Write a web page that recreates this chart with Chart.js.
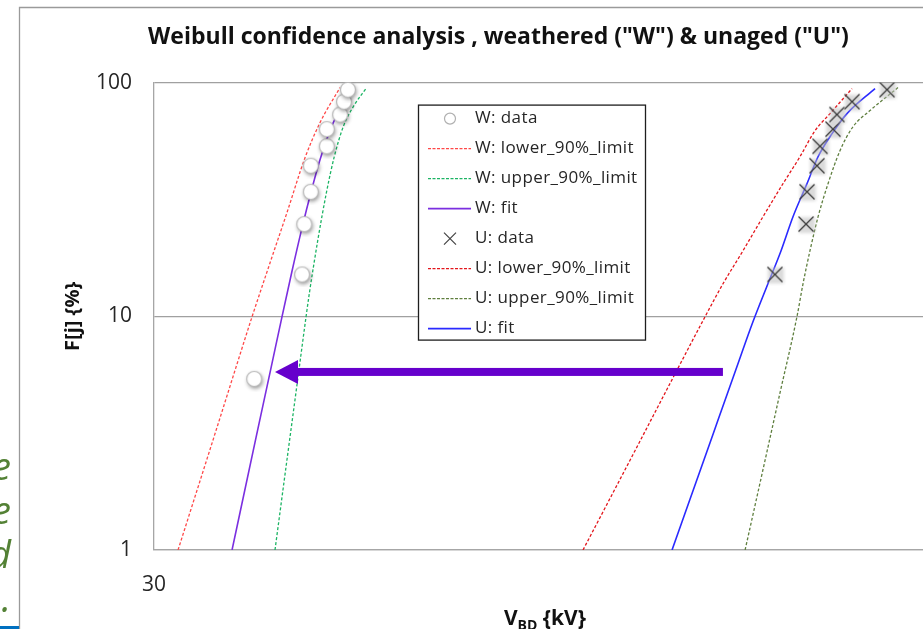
<!DOCTYPE html>
<html>
<head>
<meta charset="utf-8">
<title>Weibull confidence analysis</title>
<script src="https://cdn.jsdelivr.net/npm/chart.js@4.4.1/dist/chart.umd.min.js"></script>
<style>
  html, body { margin: 0; padding: 0; background: #fff; overflow: hidden; }
  body { width: 923px; height: 629px; position: relative; }
  #weibull-chart { position: absolute; left: 0; top: 0; }
  #side-text { position: absolute; left: -100px; top: 443px; width: 111px; text-align: right;
    font: italic 38px 'Open Sans', sans-serif; line-height: 44px; color: #538135; }
  #side-line { position: absolute; left: 0; top: 626px; width: 19px; height: 3px; background: #0070C0; }
</style>
</head>
<body>
<canvas id="weibull-chart" width="980" height="629"></canvas>
<div id="side-text">e<br>e<br>d<br>.</div>
<div id="side-line"></div>
<script>
// plotting positions F[j] {%} of the sorted breakdown voltages
const wRankF = [5.4, 15.1, 24.8, 34.1, 44.1, 53.4, 63.2, 73.0, 82.9, 93.3];
const uRankF = [15.1, 24.8, 34.1, 44.1, 53.4, 63.2, 73.0, 82.9, 93.3];

// W: weathered
const wDataV = [40.3, 46.4, 46.7, 47.6, 47.6, 49.9, 49.9, 51.9, 52.5, 53.1];
const wLowerV = [32.2, 36.13, 38.1, 40.04, 42.21, 44.38, 46.8, 48.91, 51.88];
const wLowerF = [1.0, 3.36, 5.9, 9.95, 16.9, 27.8, 47.7, 67.4, 95.2];
const wUpperV = [42.84, 44.2, 45.67, 46.94, 47.41, 48.61, 49.84, 51.01, 52.38, 53.95, 56.12];
const wUpperF = [1.0, 2.2, 4.99, 9.95, 12.6, 21.3, 33.8, 48.2, 64.8, 78.9, 95.2];
const wFitV = [37.75, 40.53, 42.29, 43.73, 45.0, 46.33, 47.72, 48.91, 50.86, 53.85];
const wFitF = [1.0, 3.05, 5.9, 9.95, 15.4, 23.5, 34.8, 46.8, 67.4, 93.3];

// U: unaged
const uDataV = [186.7, 204.6, 205.2, 211.3, 213.2, 221.5, 224.1, 234.3, 259.7];
const uLowerV = [106.1, 123.8, 138.5, 151.96, 160.23, 169.95, 180.26, 191.19, 201.0, 210.1, 219.6, 234.3];
const uLowerF = [1.0, 2.68, 5.51, 9.95, 13.78, 19.08, 26.68, 36.94, 48.19, 62.29, 73.68, 94.3];
const uUpperV = [171.0, 181.4, 189.5, 199.2, 202.8, 207.0, 212.0, 218.3, 226.1, 235.0, 247.0, 268.2];
const uUpperF = [1.0, 2.43, 4.7, 9.95, 13.78, 19.08, 26.68, 36.94, 51.1, 64.8, 75.89, 95.2];
const uFitV = [137.9, 155.8, 166.4, 175.0, 182.9, 190.1, 196.9, 205.2, 212.0, 220.9, 230.8, 250.7];
const uFitF = [1.0, 3.17, 5.9, 9.47, 13.78, 19.08, 26.68, 36.94, 48.19, 60.47, 73.68, 94.3];

// axes
const xRange = [30, 300];
const xTickValues = [30];
const yRange = [1, 100];
const yTickValues = [1, 10, 100];

// the shift arrow (U -> W)
const arrowNote = { fromV: 160.2, toV: 42.84, atF: 5.78 };

const FONT = "'Open Sans', sans-serif";
Chart.defaults.font.family = FONT;
Chart.defaults.color = '#262626';

function pts(vs, fs) {
  return vs.map((v, i) => ({ x: v, y: fs[i] }));
}

// markers with the soft excel-like shadow
function circleMarker() {
  const c = document.createElement('canvas');
  c.width = c.height = 26;
  const g = c.getContext('2d');
  g.shadowColor = 'rgba(0,0,0,0.45)';
  g.shadowBlur = 4;
  g.shadowOffsetX = 1;
  g.shadowOffsetY = 2;
  g.beginPath();
  g.arc(13, 13, 7.5, 0, Math.PI * 2);
  g.fillStyle = '#fff';
  g.fill();
  g.shadowColor = 'transparent';
  g.lineWidth = 1.2;
  g.strokeStyle = '#b8b8b8';
  g.stroke();
  return c;
}

function crossMarker() {
  const c = document.createElement('canvas');
  c.width = c.height = 28;
  const g = c.getContext('2d');
  g.filter = 'blur(1.5px)';
  g.fillStyle = 'rgba(190,190,190,0.55)';
  g.fillRect(7, 7, 16, 16);
  g.filter = 'none';
  g.strokeStyle = '#3a3a3a';
  g.lineWidth = 1.3;
  g.beginPath();
  g.moveTo(6.5, 6.5); g.lineTo(21.5, 21.5);
  g.moveTo(21.5, 6.5); g.lineTo(6.5, 21.5);
  g.stroke();
  return c;
}

function curve(label, vs, fs, color, dashed) {
  return {
    label: label,
    data: pts(vs, fs),
    showLine: true,
    borderColor: color,
    backgroundColor: color,
    borderWidth: dashed ? 1.3 : 1.6,
    borderDash: dashed ? [3, 2] : [],
    pointRadius: 0,
    cubicInterpolationMode: 'monotone',
    order: 2
  };
}

const datasets = [
  { label: 'W: data', data: pts(wDataV, wRankF), pointStyle: circleMarker(), pointRadius: 8, showLine: false, order: 0, marker: 'circle' },
  curve('W: lower_90%_limit', wLowerV, wLowerF, '#ff4848', true),
  curve('W: upper_90%_limit', wUpperV, wUpperF, '#1cb464', true),
  curve('W: fit', wFitV, wFitF, '#7b2fe0', false),
  { label: 'U: data', data: pts(uDataV, uRankF), pointStyle: crossMarker(), pointRadius: 8, showLine: false, order: 0, marker: 'cross' },
  curve('U: lower_90%_limit', uLowerV, uLowerF, '#e3161c', true),
  curve('U: upper_90%_limit', uUpperV, uUpperF, '#5f7f3f', true),
  curve('U: fit', uFitV, uFitF, '#2a2aff', false)
];

// white page + chart frame
const framePlugin = {
  id: 'frame',
  beforeDraw(chart) {
    const { ctx, width, height } = chart;
    ctx.save();
    ctx.fillStyle = '#fff';
    ctx.fillRect(0, 0, width, height);
    ctx.strokeStyle = '#9a9a9a';
    ctx.lineWidth = 1.3;
    ctx.beginPath();
    ctx.moveTo(19.5, height);
    ctx.lineTo(19.5, 7.5);
    ctx.lineTo(width, 7.5);
    ctx.stroke();
    ctx.restore();
  }
};

// legend box inside the plot
const legendBoxPlugin = {
  id: 'legendBox',
  afterDatasetsDraw(chart) {
    const { ctx, chartArea } = chart;
    const x0 = chartArea.left + 264, y0 = chartArea.top + 22;
    const w = 227, rowH = 30, h = 235;
    ctx.save();
    ctx.fillStyle = '#fff';
    ctx.fillRect(x0, y0, w, h);
    ctx.strokeStyle = '#1e1e1e';
    ctx.lineWidth = 1.3;
    ctx.strokeRect(x0 + 0.5, y0 + 0.5, w, h);
    ctx.font = '17px ' + FONT;
    ctx.letterSpacing = '0.4px';
    ctx.textBaseline = 'middle';
    chart.data.datasets.forEach((ds, i) => {
      const y = y0 + 14 + i * rowH;
      if (ds.showLine) {
        ctx.strokeStyle = ds.borderColor;
        ctx.lineWidth = ds.borderWidth;
        ctx.setLineDash(ds.borderDash.length ? [3, 1.5] : []);
        ctx.beginPath();
        ctx.moveTo(x0 + 10, y);
        ctx.lineTo(x0 + 53, y);
        ctx.stroke();
        ctx.setLineDash([]);
      } else if (ds.marker === 'circle') {
        ctx.strokeStyle = '#b0b0b0';
        ctx.lineWidth = 1.2;
        ctx.beginPath();
        ctx.arc(x0 + 32, y, 5.5, 0, Math.PI * 2);
        ctx.stroke();
      } else {
        ctx.strokeStyle = '#444';
        ctx.lineWidth = 1.2;
        ctx.beginPath();
        ctx.moveTo(x0 + 26, y - 6); ctx.lineTo(x0 + 38, y + 6);
        ctx.moveTo(x0 + 38, y - 6); ctx.lineTo(x0 + 26, y + 6);
        ctx.stroke();
      }
      ctx.fillStyle = '#262626';
      ctx.fillText(ds.label, x0 + 57, y);
    });
    ctx.restore();
  }
};

// x-axis title with subscript + the arrow
const overlayPlugin = {
  id: 'overlay',
  afterDraw(chart) {
    const { ctx, chartArea, scales } = chart;
    ctx.save();
    // V_BD {kV}
    const big = 'bold 21px ' + FONT, small = 'bold 14px ' + FONT;
    ctx.font = big;
    const wV = ctx.measureText('V').width;
    const wRest = ctx.measureText(' {kV}').width;
    ctx.font = small;
    const wSub = ctx.measureText('BD').width;
    let x = (chartArea.left + chartArea.right) / 2 - (wV + wSub + wRest) / 2;
    const base = chartArea.bottom + 75;
    ctx.fillStyle = '#111';
    ctx.textBaseline = 'alphabetic';
    ctx.font = big;
    ctx.fillText('V', x, base);
    x += wV;
    ctx.font = small;
    ctx.fillText('BD', x, base + 5);
    x += wSub;
    ctx.font = big;
    ctx.fillText(' {kV}', x, base);

    // arrow
    const x1 = scales.x.getPixelForValue(arrowNote.fromV);
    const x2 = scales.x.getPixelForValue(arrowNote.toV);
    const y = scales.y.getPixelForValue(arrowNote.atF);
    ctx.fillStyle = '#6600cc';
    ctx.fillRect(x2 + 20, y - 4, x1 - x2 - 20, 8);
    ctx.beginPath();
    ctx.moveTo(x2, y);
    ctx.lineTo(x2 + 23, y - 12);
    ctx.lineTo(x2 + 23, y + 12);
    ctx.closePath();
    ctx.fill();
    ctx.restore();
  }
};

const ctx = document.getElementById('weibull-chart').getContext('2d');

const weibullChart = new Chart(ctx, {
  type: 'scatter',
  data: { datasets: datasets },
  options: {
    responsive: false,
    animation: false,
    events: [],
    layout: { padding: { left: 61, right: 44, top: 0, bottom: 0 } },
    plugins: {
      legend: { display: false },
      tooltip: { enabled: false },
      title: {
        display: true,
        text: 'Weibull confidence analysis , weathered ("W") & unaged ("U")',
        color: '#111',
        font: { size: 23, weight: 'bold' },
        padding: { top: 24, bottom: 31 }
      }
    },
    scales: {
      x: {
        type: 'logarithmic',
        min: xRange[0],
        max: xRange[1],
        afterBuildTicks: s => { s.ticks = xTickValues.map(v => ({ value: v })); },
        afterFit: s => { s.height = 79; },
        ticks: { callback: v => String(v), font: { size: 21 }, padding: 22, maxRotation: 0, autoSkip: false },
        grid: { display: false, drawTicks: false },
        border: { color: '#a6a6a6', width: 1.3 }
      },
      y: {
        type: 'logarithmic',
        min: yRange[0],
        max: yRange[1],
        afterBuildTicks: s => { s.ticks = yTickValues.map(v => ({ value: v })); },
        afterFit: s => { s.width = 93; },
        ticks: { callback: v => String(v), font: { size: 21 }, padding: 22, autoSkip: false },
        grid: { color: '#a0a0a0', lineWidth: 1.2, drawTicks: false },
        border: { color: '#a6a6a6', width: 1.3 },
        title: { display: true, text: 'F[j] {%}', color: '#111', font: { size: 20, weight: 'bold' }, padding: 0 }
      }
    }
  },
  plugins: [framePlugin, legendBoxPlugin, overlayPlugin]
});
</script>
</body>
</html>
